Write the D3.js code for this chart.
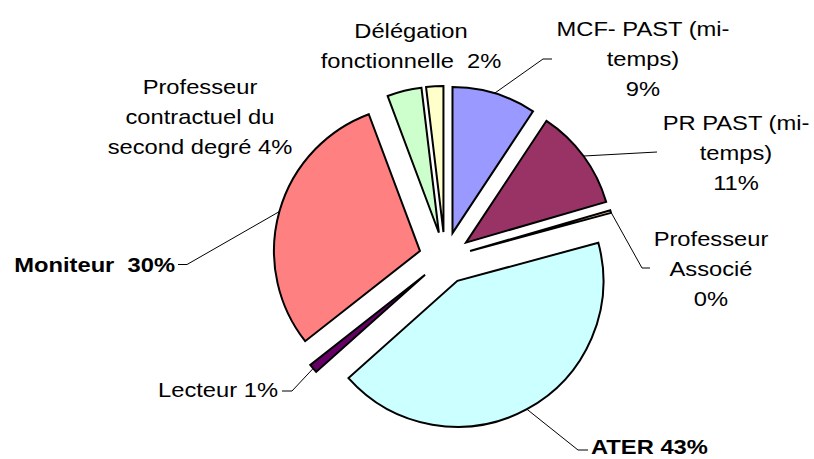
<!DOCTYPE html>
<html>
<head>
<meta charset="utf-8">
<script src="https://cdn.jsdelivr.net/npm/d3@7"></script>
<style>
  body { margin: 0; background: #fff; }
  svg { display: block; }
  text { font-family: Arial, "Liberation Sans", sans-serif; font-size: 21px; fill: #000; white-space: pre; }
</style>
</head>
<body>
<div class="chart"></div>
<script>
// ------------------- DATA
var categories = ["MCF- PAST (mi-temps)", "PR PAST (mi-temps)", "Professeur Associé", "ATER",
                  "Lecteur", "Moniteur", "Professeur contractuel du second degré", "Délégation fonctionnelle"];
var values = [9.3, 11.2, 0.3, 42.6, 1.0, 29.9, 3.8, 1.9];
var palette = ["#9999FF", "#993366", "#FFCC99", "#CCFFFF", "#660066", "#FF8080", "#CCFFCC", "#FFFFCC"];

var width = 814, height = 459;
var cx = 445, cy = 258, radius = 146, explode = 26;

// ------------------- LABEL LAYOUT (line breaks, anchor, position, leader elbow)
function pct(i) { return Math.round(values[i] / d3.sum(values) * 100) + "%"; }
var labels = [
  { lines: ["MCF- PAST (mi-", "temps)", pct(0)], anchor: "middle", x: 643, y: 36, leader: [[543, 59], [552, 59]] },
  { lines: ["PR PAST (mi-", "temps)", pct(1)], anchor: "middle", x: 736, y: 130, leader: [[657, 152]] },
  { lines: ["Professeur", "Associé", pct(2)], anchor: "middle", x: 711, y: 246, leader: [[642, 268], [650, 268]] },
  { lines: ["ATER " + pct(3)], anchor: "start", x: 591, y: 454, bold: true, leader: [[578, 450], [588, 450]] },
  { lines: ["Lecteur " + pct(4)], anchor: "end", x: 278, y: 397, leader: [[292, 391], [282, 391]] },
  { lines: ["Moniteur  " + pct(5)], anchor: "end", x: 175, y: 272, bold: true, leader: [[187, 264.5], [178, 264.5]] },
  { lines: ["Professeur", "contractuel du", "second degré " + pct(6)], anchor: "middle", x: 200, y: 94, leader: null },
  { lines: ["Délégation", "fonctionnelle  " + pct(7)], anchor: "middle", x: 411, y: 38, leader: null }
];
var lineHeight = 30;

var svg = d3.select(".chart").append("svg")
  .attr("width", width)
  .attr("height", height);

// ------------------- PIE
var pie = d3.pie().sort(null).value(function(d){ return d; });
var arcs = pie(values);

var arc = d3.arc().innerRadius(0).outerRadius(radius);

function mid(d) { return (d.startAngle + d.endAngle) / 2; }
function offset(d) {
  var a = mid(d);
  return [cx + explode * Math.sin(a), cy - explode * Math.cos(a)];
}

var chartGroup = svg.append("g");

chartGroup.selectAll("path.slice")
  .data(arcs)
  .enter().append("path")
    .attr("class", "slice")
    .attr("d", arc)
    .attr("fill", function(d, i){ return palette[i]; })
    .attr("stroke", "#000")
    .attr("stroke-width", 2)
    .attr("stroke-linejoin", "miter")
    .attr("transform", function(d){ var o = offset(d); return "translate(" + o[0] + "," + o[1] + ")"; });

// ------------------- LEADER LINES
var line = d3.line();
arcs.forEach(function(d, i){
  var lab = labels[i];
  if (!lab.leader) return;
  var o = offset(d), a = mid(d);
  var start = [o[0] + radius * Math.sin(a), o[1] - radius * Math.cos(a)];
  svg.append("path")
    .attr("d", line([start].concat(lab.leader)))
    .attr("fill", "none")
    .attr("stroke", "#000")
    .attr("stroke-width", 1);
});

// ------------------- LABELS
labels.forEach(function(lab){
  var t = svg.append("text")
    .attr("xml:space", "preserve")
    .attr("text-anchor", lab.anchor)
    .attr("font-weight", lab.bold ? "bold" : "normal")
    .attr("transform", "translate(" + lab.x + "," + lab.y + ") scale(1.13,1)");
  lab.lines.forEach(function(s, k){
    t.append("tspan").attr("x", 0).attr("y", k * lineHeight).text(s);
  });
});
</script>
</body>
</html>
